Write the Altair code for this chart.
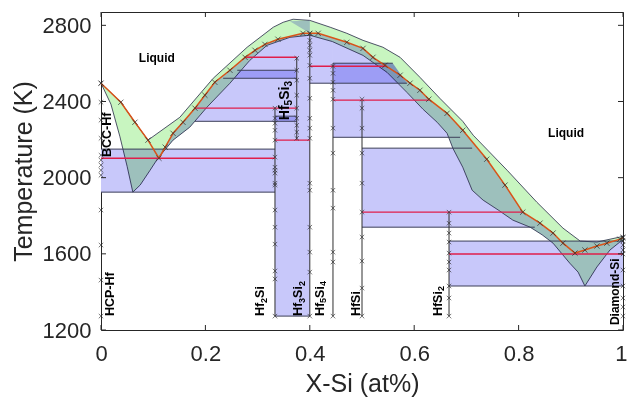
import altair as alt
import pandas as pd

FONT = "Liberation Sans"
INK = "#262626"

# ---------------- axes ----------------
X_DOMAIN = [0.0, 1.0]
T_DOMAIN = [1200, 2870]
X_TICKS = [0, 0.2, 0.4, 0.6, 0.8, 1]
T_TICKS = [1200, 1600, 2000, 2400, 2800]
PLOT_W, PLOT_H = 522, 318

# ---------------- computed liquidus (x_Si, T in K) ----------------
liq_x = [0.0, 0.038, 0.065, 0.090, 0.111, 0.123, 0.138, 0.157, 0.180, 0.199, 0.218,
         0.247, 0.276, 0.295, 0.314, 0.339, 0.387, 0.400, 0.416, 0.471, 0.502, 0.521,
         0.544, 0.573, 0.592, 0.611, 0.628, 0.663, 0.693, 0.739, 0.774, 0.808, 0.841,
         0.866, 0.885, 0.908, 0.927, 0.950, 0.969, 0.994, 1.0]
liq_T = [2496, 2396, 2291, 2197, 2102, 2160, 2233, 2291, 2365, 2433, 2501,
         2564, 2632, 2669, 2700, 2727, 2758, 2758, 2758, 2711, 2679, 2632,
         2590, 2538, 2496, 2459, 2412, 2338, 2249, 2097, 1961, 1819, 1761,
         1709, 1656, 1604, 1620, 1641, 1656, 1677, 1685]

# ---------------- uncertainty band around the liquidus ----------------
up_x = [0.0, 0.038, 0.065, 0.090, 0.151, 0.215, 0.280, 0.330, 0.349, 0.368, 0.400,
        0.439, 0.471, 0.502, 0.540, 0.573, 0.611, 0.649, 0.693, 0.713, 0.778, 0.835,
        0.885, 0.918, 0.950, 0.994, 1.0]
up_T = [2496, 2396, 2291, 2197, 2317, 2522, 2685, 2790, 2816, 2832, 2826,
        2790, 2758, 2721, 2685, 2632, 2527, 2417, 2296, 2223, 2039, 1871,
        1735, 1667, 1662, 1688, 1693]

lo_x = [0.0, 0.019, 0.036, 0.050, 0.061, 0.075, 0.094, 0.109, 0.138, 0.170, 0.203,
        0.247, 0.285, 0.318, 0.362, 0.400, 0.443, 0.502, 0.548, 0.586, 0.617, 0.644,
        0.663, 0.674, 0.693, 0.711, 0.732, 0.761, 0.789, 0.822, 0.845, 0.866, 0.898,
        0.914, 0.927, 0.950, 0.975, 0.994, 1.0]
lo_T = [2496, 2386, 2218, 2060, 1924, 1961, 2039, 2102, 2197, 2265, 2370,
        2496, 2616, 2695, 2737, 2748, 2715, 2642, 2553, 2448, 2359, 2291,
        2233, 2155, 2055, 1934, 1882, 1830, 1777, 1740, 1700, 1656, 1551,
        1504, 1431, 1531, 1620, 1662, 1672]

# ---------------- two-phase solid regions ----------------
regions = {
    "BCC+Hf2Si": [(0.0, 1924), (0.3333, 1924), (0.3333, 2150), (0.0, 2150)],
    "Hf2Si-Hf3Si2": [(0.180, 2296), (0.203, 2370), (0.247, 2496), (0.285, 2616),
                     (0.318, 2695), (0.362, 2737), (0.400, 2748), (0.400, 1273),
                     (0.3333, 1273), (0.3333, 2296)],
    "Hf3Si2-Hf5Si4": [(0.400, 2748), (0.4444, 2715), (0.4444, 2496), (0.400, 2496)],
    "Hf5Si4-HfSi": [(0.4444, 2715), (0.502, 2642), (0.548, 2553), (0.586, 2448),
                    (0.617, 2359), (0.644, 2291), (0.663, 2233), (0.666, 2212),
                    (0.4444, 2212)],
    "HfSi-HfSi2": [(0.5, 2155), (0.674, 2155), (0.693, 2055), (0.711, 1934),
                   (0.732, 1882), (0.761, 1830), (0.789, 1777), (0.822, 1740),
                   (0.5, 1740)],
    "HfSi2+Si": [(0.6667, 1431), (1.0, 1431), (1.0, 1667), (0.6667, 1667)],
    "cap": [(0.362, 2821), (0.400, 2826), (0.400, 2758)],
}
overlaps = {
    "a": [(0.266, 2564), (0.375, 2564), (0.375, 2522), (0.255, 2522)],
    "b": [(0.3333, 2323), (0.375, 2323), (0.375, 2296), (0.3333, 2296)],
    "c": [(0.4444, 2601), (0.559, 2601), (0.586, 2496), (0.4444, 2496)],
}

# ---------------- boundary lines (T, x from, x to) ----------------
edge_T = [2150, 1924, 2296, 2323, 2564, 2522, 2496, 2601, 2212, 2155, 1740, 1667, 1431, 1273]
edge_x1 = [0.0, 0.0, 0.180, 0.3333, 0.261, 0.234, 0.400, 0.4444, 0.4444, 0.5, 0.5, 0.6667, 0.6667, 0.3333]
edge_x2 = [0.3333, 0.3333, 0.375, 0.375, 0.375, 0.375, 0.586, 0.559, 0.688, 0.711, 0.831, 1.0, 1.0, 0.400]

# invariant reactions
inv_T = [2102, 2365, 2632, 2197, 2585, 2407, 1819, 1599]
inv_x1 = [0.0, 0.180, 0.276, 0.3333, 0.400, 0.4444, 0.5, 0.6667]
inv_x2 = [0.3333, 0.375, 0.375, 0.400, 0.548, 0.629, 0.808, 1.0]

# compound lines (x, T bottom, T top)
cmp_x = [0.3333, 0.375, 0.400, 0.4444, 0.5, 0.6667]
cmp_T1 = [1273, 2197, 1273, 1273, 1273, 1273]
cmp_T2 = [2365, 2632, 2758, 2601, 2407, 1819]

# calculated points along the compound lines
calc_pts = {
    0.0: [2496, 2396, 2302, 2207, 2118, 2092, 2066, 2039, 2013, 1830, 1646, 1462, 1273],
    0.3333: [2365, 2312, 2286, 2249, 2197, 2108, 2055, 2039, 2024, 1971, 1961, 1830,
             1740, 1651, 1510, 1468, 1273],
    0.375: [2627, 2564, 2512, 2433, 2365, 2312, 2275, 2239, 2207],
    0.400: [2758, 2721, 2695, 2669, 2643, 2590, 2522, 2417, 2312, 2260, 2207, 1971,
            1934, 1740, 1609, 1504, 1273],
    0.4444: [2585, 2548, 2501, 2459, 2412, 2260, 2129, 1934, 1840, 1609, 1557, 1273],
    0.5: [2412, 2365, 2260, 2129, 1971, 1819, 1688, 1562, 1420, 1273],
    0.6667: [1819, 1761, 1709, 1662, 1604, 1557, 1515, 1431, 1368, 1273],
    1.0: [1688, 1667, 1646, 1620, 1599, 1515, 1431, 1368, 1321, 1273],
}

# phase labels: (x, T at start of text, font size, [(text, is_subscript), ...])
phase_labels = [
    (0.0115, 2108, 12.5, [("BCC-Hf", 0)]),
    (0.017, 1273, 12.5, [("HCP-Hf", 0)]),
    (0.305, 1273, 12.5, [("Hf", 0), ("2", 1), ("Si", 0)]),
    (0.378, 1273, 12.5, [("Hf", 0), ("3", 1), ("Si", 0), ("2", 1)]),
    (0.419, 1273, 12.5, [("Hf", 0), ("5", 1), ("Si", 0), ("4", 1)]),
    (0.488, 1273, 12.5, [("HfSi", 0)]),
    (0.645, 1273, 12.5, [("HfSi", 0), ("2", 1)]),
    (0.985, 1226, 12, [("Diamond-Si", 0)]),
    (0.352, 2302, 14, [("Hf", 0), ("5", 1), ("Si", 0), ("3", 1)]),
]
liq_lbl_x, liq_lbl_T = [0.107, 0.891], [2627, 2233]

# bold sans advance widths (em) used to lay out the label pieces
ADV = {"H": .722, "f": .333, "S": .667, "i": .278, "B": .722, "C": .722, "-": .333,
       "P": .667, "D": .722, "a": .556, "m": .889, "o": .611, "n": .611, "d": .611}
SUB_SCALE, SUB_SHIFT = 0.72, 0.30

# ---------------- colours ----------------
BLUE = "#c8c8fa"
BLUE_DARK = "#9d9df5"
GREEN = "#c8f5c0"
EDGE = "#3c3f58"
RED = "#e01e4a"
ORANGE = "#d95319"
X_SHAPE = "M-1,-1L1,1M-1,1L1,-1"

# ---------------- encodings ----------------
x_scale = alt.Scale(domain=X_DOMAIN, nice=False, zero=False)
t_scale = alt.Scale(domain=T_DOMAIN, nice=False, zero=False)
x_axis = alt.Axis(values=X_TICKS, format="~g", title="X-Si (at%)", grid=False,
                  domain=False, ticks=False, tickSize=0, labelFont=FONT,
                  labelFontSize=22, labelColor=INK, labelPadding=13,
                  labelFlush=False, labelOverlap=False,
                  labelAlign={"condition": {"test": "datum.value == 1", "value": "right"},
                              "value": "center"},
                  labelOffset={"condition": {"test": "datum.value == 1", "value": 4},
                               "value": 0},
                  titleFont=FONT,
                  titleFontSize=25, titleFontWeight="normal", titleColor=INK,
                  titleX=261, titleY=53, titleBaseline="middle", titleAlign="center")
t_axis = alt.Axis(values=T_TICKS, format="d", title="Temperature (K)", grid=False,
                  domain=False, ticks=False, tickSize=0, labelFont=FONT,
                  labelFontSize=22, labelColor=INK, labelPadding=10,
                  labelFlush=False, labelOverlap=False, titleFont=FONT,
                  titleFontSize=25, titleFontWeight="normal", titleColor=INK,
                  titleX=-78, titleY=159, titleAngle=270, titleBaseline="middle",
                  titleAlign="center")


def X(field):
    return alt.X(field, type="quantitative", scale=x_scale, axis=x_axis)


def Y(field):
    return alt.Y(field, type="quantitative", scale=t_scale, axis=t_axis)


def poly_frame(shapes):
    rows = []
    for name, pts in shapes.items():
        for i, (px, pt) in enumerate(pts):
            rows.append({"poly": name, "i": i, "x": px, "T": pt})
    return pd.DataFrame(rows)


def polygons(df, **mark):
    return alt.Chart(df).mark_line(**mark).encode(
        x=X("x"), y=Y("T"), detail="poly:N", order="i:Q")


# band outline: upper edge then lower edge back
band_pts = list(zip(up_x, up_T)) + list(zip(lo_x, lo_T))[::-1]
# liquid+solid strip between the liquidus and the lower edge of the band
strip_pts = [(a, b) for a, b in zip(liq_x, liq_T) if 0.110 <= a <= 0.909] + \
            [(a, b) for a, b in zip(lo_x, lo_T) if 0.108 <= a <= 0.899][::-1]

blue_df = poly_frame({**regions, "strip": strip_pts})
dark_df = poly_frame(overlaps)
band_df = poly_frame({"band": band_pts})

layers = []
layers.append(polygons(blue_df, fill=BLUE, strokeOpacity=0))
layers.append(polygons(dark_df, fill=BLUE_DARK, strokeOpacity=0))
layers.append(polygons(band_df, fill=GREEN, stroke=EDGE, strokeWidth=0.9,
                       blend="multiply"))

edges = pd.DataFrame({"T": edge_T, "x1": edge_x1, "x2": edge_x2})
layers.append(alt.Chart(edges).mark_rule(color=EDGE, strokeWidth=1).encode(
    x=X("x1"), x2="x2", y=Y("T")))

cmp = pd.DataFrame({"x": cmp_x, "T1": cmp_T1, "T2": cmp_T2})
layers.append(alt.Chart(cmp).mark_rule(color="#303030", strokeWidth=1).encode(
    x=X("x"), y=Y("T1"), y2="T2"))

inv = pd.DataFrame({"T": inv_T, "x1": inv_x1, "x2": inv_x2})
layers.append(alt.Chart(inv).mark_rule(color=RED, strokeWidth=1.4).encode(
    x=X("x1"), x2="x2", y=Y("T")))

liq = pd.DataFrame({"x": liq_x, "T": liq_T, "i": range(len(liq_x))})
layers.append(alt.Chart(liq).mark_line(color=ORANGE, strokeWidth=1.5).encode(
    x=X("x"), y=Y("T"), order="i:Q"))
layers.append(alt.Chart(liq).mark_point(shape=X_SHAPE, filled=False, size=28,
                                        color="#2a2a2a", strokeWidth=1).encode(
    x=X("x"), y=Y("T")))

calc = pd.DataFrame([{"x": k, "T": t} for k, ts in calc_pts.items() for t in ts])
layers.append(alt.Chart(calc).mark_point(shape=X_SHAPE, filled=False, size=20,
                                         color="#2a2a2a", strokeWidth=0.9).encode(
    x=X("x"), y=Y("T")))

# inward ticks on all four sides
TICK_X = 5 / PLOT_W
TICK_T = 5 * (T_DOMAIN[1] - T_DOMAIN[0]) / PLOT_H
tx = pd.DataFrame({"x": X_TICKS * 2,
                   "T1": [T_DOMAIN[0]] * 6 + [T_DOMAIN[1]] * 6,
                   "T2": [T_DOMAIN[0] + TICK_T] * 6 + [T_DOMAIN[1] - TICK_T] * 6})
ty = pd.DataFrame({"T": T_TICKS * 2,
                   "x1": [0.0] * 5 + [1.0] * 5,
                   "x2": [TICK_X] * 5 + [1.0 - TICK_X] * 5})
layers.append(alt.Chart(tx).mark_rule(color=INK, strokeWidth=1).encode(
    x=X("x"), y=Y("T1"), y2="T2"))
layers.append(alt.Chart(ty).mark_rule(color=INK, strokeWidth=1).encode(
    x=X("x1"), x2="x2", y=Y("T")))

# vertical phase labels, written bottom-to-top with lowered subscripts
K_PER_PX = (T_DOMAIN[1] - T_DOMAIN[0]) / PLOT_H
rows = []
for lx, lt, fs, pieces in phase_labels:
    run = 0.0
    for txt, sub in pieces:
        size = fs * SUB_SCALE if sub else fs
        shift = fs * SUB_SHIFT / PLOT_W if sub else 0.0
        rows.append({"x": lx + shift, "T": lt + run * K_PER_PX, "text": txt, "fs": size})
        run += sum(ADV.get(c, 0.556) for c in txt) * size
lbl = pd.DataFrame(rows)
layers.append(alt.Chart(lbl).mark_text(angle=270, align="left", baseline="middle",
                                       font=FONT, fontWeight="bold",
                                       color="black").encode(
    x=X("x"), y=Y("T"), text="text:N", size=alt.Size("fs:Q", scale=None, legend=None)))

ll = pd.DataFrame({"x": liq_lbl_x, "T": liq_lbl_T, "text": ["Liquid", "Liquid"]})
layers.append(alt.Chart(ll).mark_text(align="center", baseline="middle", font=FONT,
                                      fontSize=12, fontWeight="bold",
                                      color="black").encode(
    x=X("x"), y=Y("T"), text="text:N"))

chart = alt.layer(*layers).properties(
    width=PLOT_W, height=PLOT_H,
    padding={"left": 101, "top": 12, "right": 4, "bottom": 69},
    autosize=alt.AutoSizeParams(type="none"),
    background="white",
).configure_view(stroke=INK, strokeWidth=1)

chart.save("out.html", embed_options={"renderer": "svg", "actions": False})
